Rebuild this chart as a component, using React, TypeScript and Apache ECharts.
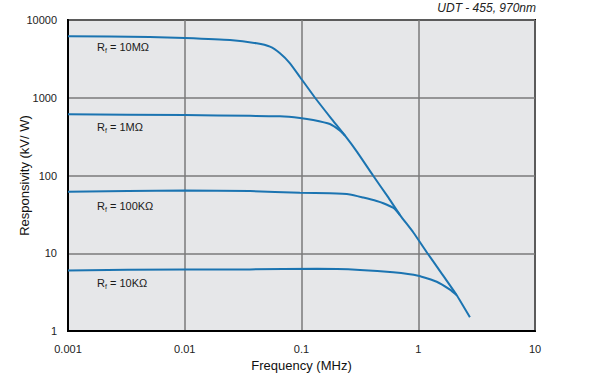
import React, { useEffect, useRef } from "react";
import * as echarts from "echarts";

const xTickLabels = ["0.001", "0.01", "0.1", "1", "10"];
const yTickLabels = ["1", "10", "100", "1000", "10000"];

const freq10M = [0.001, 0.005, 0.01, 0.0244, 0.0413, 0.0537, 0.0654, 0.0797, 0.097, 0.1306, 0.18, 0.236, 0.30, 0.41, 0.55, 0.698, 0.908, 1.2, 1.6, 2.13, 2.77];
const resp10M = [6200, 6050, 5870, 5530, 5015, 4536, 3730, 2773, 1850, 1000, 540, 325, 200, 100, 53, 31, 18.5, 10, 5.4, 2.9, 1.5];

const freq1M = [0.001, 0.01, 0.0362, 0.0654, 0.097, 0.126, 0.175, 0.215, 0.236];
const resp1M = [612, 600, 585, 578, 550, 518, 459, 375, 325];

const freq100K = [0.001, 0.01, 0.0362, 0.097, 0.175, 0.26, 0.338, 0.44, 0.502, 0.608, 0.653, 0.698];
const resp100K = [62, 64, 63, 60, 59, 57, 52, 47, 44, 38.5, 35, 31];

const freq10K = [0.001, 0.01, 0.0362, 0.136, 0.317, 0.61, 1.0, 1.44, 1.87, 2.13];
const resp10K = [6.0, 6.2, 6.2, 6.3, 6.1, 5.7, 5.15, 4.3, 3.4, 2.9];

const seriesNames = ["10MΩ", "1MΩ", "100KΩ", "10KΩ"];
const titleText = "UDT - 455, 970nm";
const xName = "Frequency (MHz)";
const yName = "Responsivity (kV/ W)";

const lineColor = "#1b74b1";
const font = "'Liberation Sans', Arial, Helvetica, sans-serif";

function pairs(xs: number[], ys: number[]) {
  return xs.map((x, i) => [x, ys[i]]);
}

export default function App() {
  const ref = useRef<HTMLDivElement>(null);
  useEffect(() => {
    if (!ref.current) return;
    const chart = echarts.init(ref.current, undefined, { renderer: "svg" });
    const datasets = [
      pairs(freq10M, resp10M),
      pairs(freq1M, resp1M),
      pairs(freq100K, resp100K),
      pairs(freq10K, resp10K),
    ];
    const labelYs = [48, 128, 207, 284];
    chart.setOption({
      animation: false,
      backgroundColor: "#ffffff",
      title: {
        text: titleText,
        right: 59,
        top: 2,
        padding: 0,
        textStyle: {
          fontFamily: font,
          fontStyle: "italic",
          fontWeight: "normal",
          fontSize: 12,
          color: "#222",
        },
      },
      grid: {
        left: 68,
        right: 60,
        top: 20,
        bottom: 51,
        outerBoundsMode: "none",
        show: true,
        backgroundColor: "#e6e7e9",
        borderColor: "#000",
        borderWidth: 2,
      },
      xAxis: {
        type: "log",
        logBase: 10,
        min: 0.001,
        max: 10,
        name: xName,
        nameLocation: "middle",
        nameGap: 28,
        nameMoveOverlap: false,
        nameTextStyle: { fontFamily: font, fontSize: 13, color: "#111" },
        axisLine: { show: true, lineStyle: { color: "#000", width: 2 } },
        axisTick: { show: false },
        axisLabel: {
          margin: 12,
          fontFamily: font,
          fontSize: 11,
          color: "#222",
          formatter: (v: number) => xTickLabels[Math.round(Math.log10(v)) + 3] ?? "",
        },
        splitLine: { show: true, lineStyle: { color: "#7a7a7a", width: 1.5 } },
      },
      yAxis: {
        type: "log",
        logBase: 10,
        min: 1,
        max: 10000,
        name: yName,
        nameLocation: "middle",
        nameGap: 37,
        nameMoveOverlap: false,
        nameTextStyle: { fontFamily: font, fontSize: 13, color: "#111" },
        axisLine: { show: true, lineStyle: { color: "#000", width: 2 } },
        axisTick: { show: false },
        axisLabel: {
          margin: 11,
          fontFamily: font,
          fontSize: 11,
          color: "#222",
          formatter: (v: number) => yTickLabels[Math.round(Math.log10(v))] ?? "",
        },
        splitLine: { show: true, lineStyle: { color: "#7a7a7a", width: 1.5 } },
      },
      series: datasets.map((d, i) => ({
        name: seriesNames[i],
        type: "line",
        data: d,
        showSymbol: false,
        symbol: "none",
        smooth: 0.15,
        lineStyle: { color: lineColor, width: 2 },
        z: 3,
      })),
      graphic: seriesNames.map((n, i) => ({
        type: "text",
        left: 97,
        top: labelYs[i] - 7,
        z: 10,
        style: {
          text: `{r|R}{s|f}{r| = ${n}}`,
          rich: {
            r: { fontFamily: font, fontSize: 11, fill: "#1a1a1a", lineHeight: 14, verticalAlign: "middle" },
            s: { fontFamily: font, fontSize: 7, fill: "#1a1a1a", lineHeight: 8, verticalAlign: "bottom" },
          },
        },
      })),
    });
    return () => chart.dispose();
  }, []);
  return <div ref={ref} style={{ position: "absolute", left: 0, top: 0, width: 595, height: 382 }} />;
}
